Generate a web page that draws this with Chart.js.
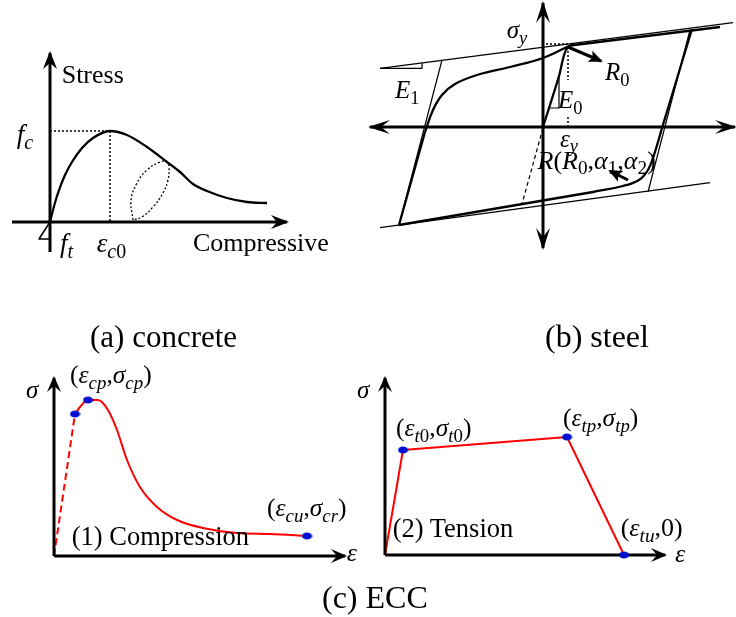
<!DOCTYPE html>
<html>
<head>
<meta charset="utf-8">
<script src="https://cdn.jsdelivr.net/npm/chart.js@4.4.0/dist/chart.umd.min.js"></script>
<style>
html, body { margin: 0; padding: 0; background: #fff; }
#wrap { position: relative; width: 736px; height: 617px; overflow: hidden; }
#fig { position: absolute; left: 0; top: 0; }
.lbl { position: absolute; font-family: "Liberation Serif", "Times New Roman", serif; line-height: 1; white-space: nowrap; color: #000; }
.lbl sub { font-size: 0.74em; position: relative; top: 0.3em; vertical-align: baseline; line-height: 0; }
</style>
</head>
<body>
<div id="wrap"><canvas id="fig" width="736" height="617"></canvas></div>
<script>
// (a) concrete - points as [strain, stress], schematic units
const concAxisH = [[-38, 0], [237, 0]];
const concAxisV = [[0, -30], [0, 169]];
const concEnvelope = [[0, 0], [3, 12], [8, 29], [15, 47], [22, 60], [32, 74], [43, 84], [60, 91], [77, 87], [97, 75], [117, 60], [130, 50], [143, 38], [157, 31], [177, 24], [197, 20], [217, 19]];
const concTension = [[0, 0], [-11, -17], [1, -17]];
const concPeakH = [[0, 91], [60, 91]];
const concPeakV = [[60, 91], [60, 0]];
const concLoop = [[83, 2], [81, 22], [87, 39], [97, 52], [110, 60], [117, 60], [119, 55], [118, 42], [113, 29], [103, 15], [92, 5], [83, 2]];

// (b) steel
const steelAxisH = [[-173, 0], [192, 0]];
const steelAxisV = [[0, -121], [0, 124]];
const steelUpperBound = [[-163, 58.7], [190, 104.3]];
const steelLowerBound = [[-163, -100.7], [167, -55.7]];
const steelE1 = [[-163, 58.7], [-121, 58.7], [-121, 64]];
const steelLeftElastic = [[-101, 67], [-144, -98]];
const steelRightElastic = [[147, 97], [105, -65]];
const steelVirgin = [[0, 0], [16, 51], [20, 68], [23, 77], [27, 81.5]];
const steelUpperBranch = [[27, 81.5], [177, 100]];
const steelReverseLine = [[149, 98], [119, -1]];
const steelReverseKnee = [[119, -1], [111, -28], [105, -43], [96, -53], [80, -59], [50, -65]];
const steelReverseBranch = [[50, -65], [-144, -98]];
const steelReloadLine = [[-144, -98], [-118, -5]];
const steelReloadKnee = [[-118, -5], [-110, 17], [-101, 32], [-88, 43], [-66, 52], [-33, 60], [0, 69], [27, 81.5]];
const steelDashed = [[0, -1], [-21, -77]];
const steelSigmaY = [[-1, 83], [25, 83]];
const steelEpsY1 = [[25, 80], [25, 47]];
const steelEpsY2 = [[25, 10], [25, 0]];
const steelE0 = [[5, 19], [16, 19], [16, 51]];
const steelR0Arrow = [[25, 80], [58, 66]];
const steelRArrow = [[85, -53], [67, -44]];

// (c) ECC compression
const compAxisH = [[0, 0], [291, 0]];
const compAxisV = [[0, 0], [0, 178]];
const compDashed = [[0, 0], [21, 142]];
const compCurve = [[21, 142], [26, 149], [34, 156], [44, 156], [54, 146], [63, 126], [73, 96], [86, 69], [103, 49], [123, 36], [149, 28], [183, 23], [216, 22], [253, 20]];
const compDots = [[21, 142], [34, 156], [253, 20]];

// (c) ECC tension
const tensAxisH = [[0, 0], [280, 0]];
const tensAxisV = [[0, 0], [0, 177]];
const tensCurve = [[0, 0], [18, 105], [182, 118], [239, 0]];
const tensDots = [[18, 105], [182, 118], [239, 0]];

// panel origins on the page (layout only)
const W = 736, H = 617;
const origins = { a: [50, 222], b: [543, 127], c: [54, 556], d: [385, 555] };

const labels = [
    { ax: 'a', x: 11.7, y: 138.7, size: 26, html: 'Stress' },
    { ax: 'a', x: -33.3, y: 78.7, size: 27, html: '<i>f</i><sub><i>c</i></sub>' },
    { ax: 'a', x: 10, y: -31, size: 27, html: '<i>f</i><sub><i>t</i></sub>' },
    { ax: 'a', x: 46.7, y: -31, size: 27, html: '<i>ε</i><sub><i>c</i>0</sub>' },
    { ax: 'a', x: 143, y: -29.7, size: 26, html: 'Compressive' },
    { ax: 'a', x: 40, y: -124.7, size: 31, html: '(a) concrete' },
    { ax: 'b', x: -36.3, y: 88.7, size: 25, html: '<i>σ</i><sub><i>y</i></sub>' },
    { ax: 'b', x: 62, y: 47, size: 25, html: '<i>R</i><sub>0</sub>' },
    { ax: 'b', x: -148, y: 28.7, size: 25, html: '<i>E</i><sub>1</sub>' },
    { ax: 'b', x: 15, y: 18.7, size: 25, html: '<i>E</i><sub>0</sub>' },
    { ax: 'b', x: 17, y: -19.7, size: 25, html: '<i>ε</i><sub><i>y</i></sub>' },
    { ax: 'b', x: -5.5, y: -42.5, size: 26, html: '<i>R</i>(<i>R</i><sub>0</sub>,<i>α</i><sub>1</sub>,<i>α</i><sub>2</sub>)' },
    { ax: 'b', x: 2, y: -219.7, size: 32, html: '(b) steel' },
    { ax: 'c', x: -28, y: 158, size: 25, html: '<i>σ</i>' },
    { ax: 'c', x: 16, y: 172.7, size: 25.5, html: '(<i>ε</i><sub><i>cp</i></sub>,<i>σ</i><sub><i>cp</i></sub>)' },
    { ax: 'c', x: 213, y: 39.3, size: 25.5, html: '(<i>ε</i><sub><i>cu</i></sub>,<i>σ</i><sub><i>cr</i></sub>)' },
    { ax: 'c', x: 17.7, y: 11, size: 26.5, html: '(1) Compression' },
    { ax: 'c', x: 292.7, y: -5.7, size: 26, html: '<i>ε</i>' },
    { ax: 'c', x: 268, y: -52, size: 32, html: '(c) ECC' },
    { ax: 'd', x: -28, y: 157, size: 25, html: '<i>σ</i>' },
    { ax: 'd', x: 11, y: 118.3, size: 25.5, html: '(<i>ε</i><sub><i>t</i>0</sub>,<i>σ</i><sub><i>t</i>0</sub>)' },
    { ax: 'd', x: 178, y: 128.3, size: 25.5, html: '(<i>ε</i><sub><i>tp</i></sub>,<i>σ</i><sub><i>tp</i></sub>)' },
    { ax: 'd', x: 235.7, y: 18.3, size: 26, html: '(<i>ε</i><sub><i>tu</i></sub>,0)' },
    { ax: 'd', x: 7.7, y: 18.3, size: 26.5, html: '(2) Tension' },
    { ax: 'd', x: 290, y: -8, size: 26, html: '<i>ε</i>' }
];

// blue marker, a little wider than tall like the original
const dotImg = document.createElement('canvas');
dotImg.width = 11;
dotImg.height = 8;
const dctx = dotImg.getContext('2d');
dctx.fillStyle = '#0010d0';
dctx.beginPath();
dctx.ellipse(5.5, 4, 5, 3.6, 0, 0, Math.PI * 2);
dctx.fill();

function line(pts, ax, opts) {
    return Object.assign({
        data: pts.map(p => ({ x: p[0], y: p[1] })),
        xAxisID: 'x' + ax,
        yAxisID: 'y' + ax,
        showLine: true,
        fill: false,
        borderColor: '#000',
        borderWidth: 2.3,
        pointRadius: 0,
        tension: 0,
        order: 1
    }, opts || {});
}

function dots(pts, ax) {
    return {
        data: pts.map(p => ({ x: p[0], y: p[1] })),
        xAxisID: 'x' + ax,
        yAxisID: 'y' + ax,
        showLine: false,
        pointStyle: dotImg,
        pointRadius: 5,
        order: 0
    };
}

const thin = { borderWidth: 1.2 };
const dotted = { borderWidth: 1.5, borderDash: [2, 2] };
const axisArrow = { borderWidth: 3, arrow: 'end', arrowLen: 18, arrowW: 7, arrowNotch: 6 };
const red = '#ff0000';

const datasets = [
    // (a)
    line(concAxisH, 'a', axisArrow),
    line(concAxisV, 'a', axisArrow),
    line(concEnvelope, 'a', { cubicInterpolationMode: 'monotone' }),
    line(concTension, 'a', { borderWidth: 1.5 }),
    line(concPeakH, 'a', dotted),
    line(concPeakV, 'a', dotted),
    line(concLoop, 'a', { borderWidth: 1.3, borderDash: [2, 2], tension: 0.4 }),
    // (b)
    line(steelAxisH, 'b', Object.assign({}, axisArrow, { arrow: 'both', arrowLen: 22, arrowNotch: 9 })),
    line(steelAxisV, 'b', Object.assign({}, axisArrow, { arrow: 'both', arrowLen: 22, arrowNotch: 9 })),
    line(steelUpperBound, 'b', thin),
    line(steelLowerBound, 'b', thin),
    line(steelE1, 'b', thin),
    line(steelLeftElastic, 'b', thin),
    line(steelRightElastic, 'b', thin),
    line(steelVirgin, 'b', { tension: 0.3 }),
    line(steelUpperBranch, 'b'),
    line(steelReverseLine, 'b'),
    line(steelReverseKnee, 'b', { tension: 0.4 }),
    line(steelReverseBranch, 'b'),
    line(steelReloadLine, 'b'),
    line(steelReloadKnee, 'b', { tension: 0.4 }),
    line(steelDashed, 'b', { borderWidth: 1.2, borderDash: [4, 3] }),
    line(steelSigmaY, 'b', dotted),
    line(steelEpsY1, 'b', dotted),
    line(steelEpsY2, 'b', dotted),
    line(steelE0, 'b', thin),
    line(steelR0Arrow, 'b', { borderWidth: 3, arrow: 'end', arrowLen: 14, arrowW: 6, arrowNotch: 3 }),
    line(steelRArrow, 'b', { borderWidth: 3, arrow: 'end', arrowLen: 14, arrowW: 6, arrowNotch: 3 }),
    // (c) compression
    line(compAxisH, 'c', Object.assign({}, axisArrow, { arrowLen: 16 })),
    line(compAxisV, 'c', Object.assign({}, axisArrow, { arrowLen: 16 })),
    line(compDashed, 'c', { borderColor: red, borderWidth: 2, borderDash: [7, 4] }),
    line(compCurve, 'c', { borderColor: red, borderWidth: 2, cubicInterpolationMode: 'monotone' }),
    dots(compDots, 'c'),
    // (c) tension
    line(tensAxisH, 'd', Object.assign({}, axisArrow, { arrowLen: 16 })),
    line(tensAxisV, 'd', Object.assign({}, axisArrow, { arrowLen: 16 })),
    line(tensCurve, 'd', { borderColor: red, borderWidth: 2 }),
    dots(tensDots, 'd')
];

// each panel gets its own hidden x/y scale so its origin lands in place
const scales = {};
Object.keys(origins).forEach(ax => {
    const o = origins[ax];
    scales['x' + ax] = { type: 'linear', display: false, min: -o[0], max: W - o[0] };
    scales['y' + ax] = { type: 'linear', display: false, min: -(H - o[1]), max: o[1] };
});

// draws stealth arrow heads on datasets flagged with "arrow"
const arrowHeads = {
    id: 'arrowHeads',
    afterDatasetsDraw(chart) {
        const ctx = chart.ctx;
        chart.data.datasets.forEach((ds, i) => {
            if (!ds.arrow) return;
            const pts = chart.getDatasetMeta(i).data;
            const ends = [[pts[pts.length - 1], pts[pts.length - 2]]];
            if (ds.arrow === 'both') ends.push([pts[0], pts[1]]);
            ends.forEach(([tip, prev]) => {
                let ux = tip.x - prev.x, uy = tip.y - prev.y;
                const len = Math.hypot(ux, uy);
                ux /= len; uy /= len;
                const nx = -uy, ny = ux;
                const L = ds.arrowLen, Wd = ds.arrowW, N = ds.arrowNotch;
                const tx = tip.x + ux * 2, ty = tip.y + uy * 2;
                ctx.save();
                ctx.fillStyle = ds.borderColor;
                ctx.beginPath();
                ctx.moveTo(tx, ty);
                ctx.lineTo(tx - ux * L + nx * Wd, ty - uy * L + ny * Wd);
                ctx.lineTo(tx - ux * (L - N), ty - uy * (L - N));
                ctx.lineTo(tx - ux * L - nx * Wd, ty - uy * L - ny * Wd);
                ctx.closePath();
                ctx.fill();
                ctx.restore();
            });
        });
    }
};

const chart = new Chart(document.getElementById('fig'), {
    type: 'scatter',
    data: { datasets: datasets },
    options: {
        responsive: false,
        animation: false,
        events: [],
        layout: { padding: 0, autoPadding: false },
        plugins: { legend: { display: false }, tooltip: { enabled: false } },
        elements: { line: { borderJoinStyle: 'round' } },
        scales: scales
    },
    plugins: [arrowHeads]
});

// place the text labels through the panel scales
const wrap = document.getElementById('wrap');
labels.forEach(l => {
    const el = document.createElement('div');
    el.className = 'lbl';
    el.style.fontSize = l.size + 'px';
    el.innerHTML = l.html;
    const px = chart.scales['x' + l.ax].getPixelForValue(l.x);
    const py = chart.scales['y' + l.ax].getPixelForValue(l.y);
    el.style.left = px + 'px';
    el.style.top = (py - 0.8375 * l.size) + 'px';
    wrap.appendChild(el);
});
</script>
</body>
</html>
